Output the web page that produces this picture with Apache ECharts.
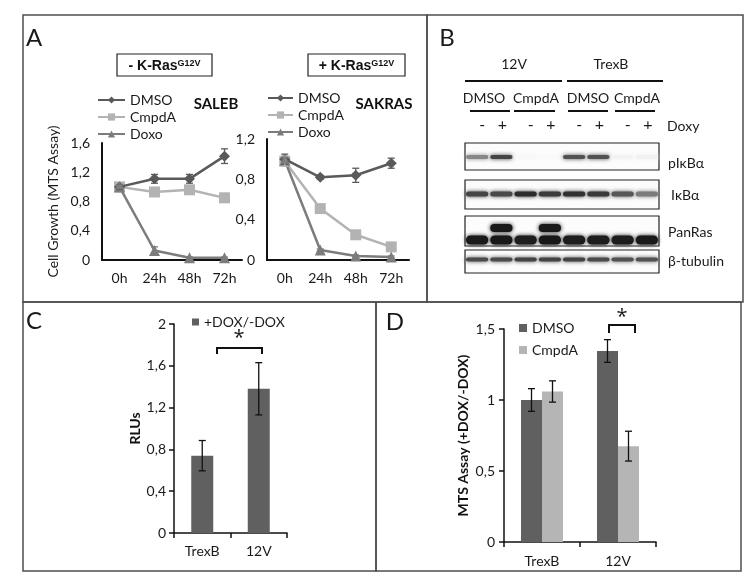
<!DOCTYPE html>
<html><head><meta charset="utf-8">
<script src="https://cdn.jsdelivr.net/npm/echarts@6/dist/echarts.min.js"></script>
<style>html,body{margin:0;padding:0;background:#fff}#c{width:750px;height:586px}</style>
</head><body><div id="c"></div>
<script>
// ---------- Panel A data ----------
const timePoints = ['0h', '24h', '48h', '72h'];
const salebDMSO = [1.0, 1.11, 1.11, 1.42];
const salebDMSOErr = [0.03, 0.06, 0.06, 0.10];
const salebCmpdA = [1.0, 0.93, 0.96, 0.85];
const salebCmpdAErr = [0.02, 0.06, 0.05, 0.06];
const salebDoxo = [1.0, 0.13, 0.03, 0.03];
const salebDoxoErr = [0.02, 0.05, 0.01, 0.01];
const sakrasDMSO = [1.0, 0.82, 0.84, 0.96];
const sakrasDMSOErr = [0.05, 0.02, 0.07, 0.05];
const sakrasCmpdA = [0.98, 0.51, 0.25, 0.13];
const sakrasCmpdAErr = [0.05, 0.02, 0.02, 0.02];
const sakrasDoxo = [0.99, 0.10, 0.04, 0.03];
const sakrasDoxoErr = [0.03, 0.01, 0.01, 0.01];

// ---------- Panel B (western blot band intensities, 0..1) ----------
const blotLanes = ['12V DMSO -', '12V DMSO +', '12V CmpdA -', '12V CmpdA +', 'TrexB DMSO -', 'TrexB DMSO +', 'TrexB CmpdA -', 'TrexB CmpdA +'];
const blotRows = ['pIκBα', 'IκBα', 'PanRas', 'β-tubulin'];
const pIkBa = [0.50, 0.78, 0.03, 0.02, 0.72, 0.72, 0.05, 0.06];
const IkBa = [0.78, 0.76, 0.88, 0.82, 0.86, 0.82, 0.70, 0.55];
const panRasLower = [0.96, 0.96, 0.94, 0.96, 0.94, 0.94, 0.94, 0.96];
const panRasUpper = [0, 0.96, 0, 0.96, 0, 0, 0, 0];
const bTubulin = [0.75, 0.75, 0.78, 0.78, 0.78, 0.75, 0.72, 0.72];
const doxySigns = ['-', '+', '-', '+', '-', '+', '-', '+'];

// ---------- Panel C ----------
const cellLines = ['TrexB', '12V'];
const rlu = [0.74, 1.38];
const rluErr = [0.145, 0.25];

// ---------- Panel D ----------
const mtsDMSO = [1.0, 1.345];
const mtsDMSOErr = [0.08, 0.08];
const mtsCmpdA = [1.06, 0.675];
const mtsCmpdAErr = [0.075, 0.105];

const FONT = "Lato, 'Open Sans', sans-serif";
const ARIAL = "'Liberation Sans', Arial, sans-serif";
const TXT = '#1a1a1a';
const C_DMSO = '#5a5a5a', C_CMPD = '#b3b3b3', C_DOXO = '#7c7c7c';
const BAR_DARK = '#606060', BAR_LIGHT = '#b5b5b5';
const D_BAR_W = 21;
const FS = 14;

const comma = v => String(Math.round(v * 10) / 10).replace('.', ',');

function errSeries(name, xi, yi, vals, errs, color, offsetPx, z) {
  return {
    type: 'custom', name: name, xAxisIndex: xi, yAxisIndex: yi, z: z || 5,
    silent: true,
    data: vals.map((v, i) => [i, v, errs[i]]),
    renderItem: function (params, api) {
      const i = api.value(0), v = api.value(1), e = api.value(2);
      const t = api.coord([i, v + e]);
      const b = api.coord([i, v - e]);
      const x = t[0] + (offsetPx || 0);
      const cap = 3.5;
      const st = { stroke: color, lineWidth: 1.3 };
      return { type: 'group', children: [
        { type: 'line', shape: { x1: x, y1: t[1], x2: x, y2: b[1] }, style: st },
        { type: 'line', shape: { x1: x - cap, y1: t[1], x2: x + cap, y2: t[1] }, style: st },
        { type: 'line', shape: { x1: x - cap, y1: b[1], x2: x + cap, y2: b[1] }, style: st }
      ]};
    }
  };
}

// blot layout constants (offsets from row centre, heights)
const boxLayout = [{ dy: -1.25, h: 27 }, { dy: 3.25, h: 29 }, { dy: 6.25, h: 30 }, { dy: 3.25, h: 23 }];
function gray(k) { const g = Math.round(255 - 240 * k); return 'rgb(' + g + ',' + g + ',' + g + ')'; }
function bandSeries(row, vals, dy, h) {
  return {
    type: 'custom', xAxisIndex: 2, yAxisIndex: 2, silent: true, z: 4,
    data: vals.map((k, i) => [i, row, k]),
    renderItem: function (params, api) {
      const k = api.value(2);
      if (k <= 0) return null;
      const c = api.coord([api.value(0), api.value(1)]);
      const lw = api.size([1, 0])[0];
      const col = gray(k);
      return { type: 'rect',
        shape: { x: c[0] - lw * 0.46, y: c[1] + dy - h / 2, width: lw * 0.92, height: h, r: h / 2 },
        style: { fill: col, shadowBlur: 4, shadowColor: col } };
    }
  };
}
const boxSeries = {
  type: 'custom', xAxisIndex: 2, yAxisIndex: 2, silent: true, z: 3,
  data: blotRows.map((r, i) => [0, i]),
  renderItem: function (params, api) {
    const r = api.value(1);
    const c0 = api.coord([0, r]);
    const c7 = api.coord([blotLanes.length - 1, r]);
    const lw = api.size([1, 0])[0];
    const L = boxLayout[r];
    return { type: 'rect',
      shape: { x: c0[0] - lw / 2, y: c0[1] + L.dy - L.h / 2, width: c7[0] - c0[0] + lw, height: L.h },
      style: { fill: '#fcfcfc', stroke: '#222', lineWidth: 1.2 } };
  }
};

const axisLineA = { show: true, lineStyle: { color: '#111', width: 2 } };
const axisLineCD = { show: true, lineStyle: { color: '#111', width: 1.5 } };
const lblA = { color: TXT, fontFamily: FONT, fontSize: FS };

function txt(x, y, text, opt) {
  opt = opt || {};
  return { type: 'text', x: x, y: y, rotation: opt.rot || 0, z: 20, silent: true,
    style: { text: text, fill: opt.color || TXT, font: (opt.weight || 'normal') + ' ' + (opt.size || FS) + 'px ' + (opt.family || FONT),
      align: opt.align || 'center', verticalAlign: 'middle', rich: opt.rich } };
}
function ln(x1, y1, x2, y2, w, c) {
  return { type: 'line', z: 20, silent: true, shape: { x1: x1, y1: y1, x2: x2, y2: y2 }, style: { stroke: c || '#111', lineWidth: w || 2 } };
}
const richSup = { sup: { fontSize: 9, fontWeight: 'bold', fontFamily: ARIAL, verticalAlign: 'top', fill: '#111' } };

const frame = '#4d4d4d';
const graphics = [
  { type: 'rect', silent: true, shape: { x: 23, y: 15, width: 404, height: 287 }, style: { fill: 'none', stroke: frame, lineWidth: 1.5 } },
  { type: 'rect', silent: true, shape: { x: 427, y: 15, width: 316, height: 287 }, style: { fill: 'none', stroke: frame, lineWidth: 1.5 } },
  { type: 'rect', silent: true, shape: { x: 23, y: 302, width: 353, height: 269 }, style: { fill: 'none', stroke: frame, lineWidth: 1.5 } },
  { type: 'rect', silent: true, shape: { x: 376, y: 302, width: 365, height: 269 }, style: { fill: 'none', stroke: frame, lineWidth: 1.5 } },
  txt(34, 38, 'A', { size: 24 }),
  txt(447, 38, 'B', { size: 24 }),
  txt(34, 321, 'C', { size: 24 }),
  txt(395, 322, 'D', { size: 24 }),
  { type: 'rect', silent: true, shape: { x: 117, y: 54, width: 95, height: 22 }, style: { fill: '#fff', stroke: '#222', lineWidth: 1.2 } },
  { type: 'rect', silent: true, shape: { x: 308, y: 54, width: 97, height: 22 }, style: { fill: '#fff', stroke: '#222', lineWidth: 1.2 } },
  txt(164.5, 66, '- K-Ras{sup|G12V}', { weight: 'bold', size: 14, family: ARIAL, color: '#111', rich: richSup }),
  txt(356.5, 66, '+ K-Ras{sup|G12V}', { weight: 'bold', size: 14, family: ARIAL, color: '#111', rich: richSup }),
  txt(216, 104, 'SALEB', { weight: 'bold', size: 15, color: '#111' }),
  txt(384, 104, 'SAKRAS', { weight: 'bold', size: 15, color: '#111' }),
  // blot header
  txt(514, 64, '12V'),
  txt(611, 64, 'TrexB'),
  ln(465, 81, 562, 81, 2), ln(567, 81, 663, 81, 2),
  txt(484, 98, 'DMSO'), txt(536, 98, 'CmpdA'),
  txt(588, 98, 'DMSO'), txt(637, 98, 'CmpdA'),
  ln(470, 111, 510, 111, 2), ln(514, 111, 555, 111, 2), ln(568, 111, 608, 111, 2), ln(615, 111, 655, 111, 2),
  txt(667, 126, 'Doxy', { align: 'left' }),
  txt(668, 163, 'pIκBα', { align: 'left' }),
  txt(671, 195, 'IκBα', { align: 'left' }),
  txt(668, 232, 'PanRas', { align: 'left' }),
  txt(668, 261, 'β-tubulin', { align: 'left' }),
  // panel C / D significance brackets
  ln(217, 348, 262, 348, 2), ln(217, 347, 217, 354, 2), ln(262, 347, 262, 354, 2),
  txt(239, 338, '*', { size: 20, family: "'Open Sans', sans-serif" }),
  ln(609, 325, 635, 325, 2), ln(609, 324, 609, 333, 2), ln(635, 324, 635, 333, 2),
  txt(622, 317, '*', { size: 20, family: "'Open Sans', sans-serif" })
];

const tickCD = { show: true, length: 5, lineStyle: { color: '#111', width: 1.5 } };
const option = {
  backgroundColor: '#fff',
  animation: false,
  textStyle: { fontFamily: FONT },
  grid: [
    { left: 102, top: 143, width: 140, height: 117 },
    { left: 267, top: 139, width: 142, height: 121 },
    { left: 465, top: 141, width: 194, height: 134 },
    { left: 174, top: 324, width: 113, height: 209 },
    { left: 504, top: 329, width: 152, height: 213 }
  ],
  xAxis: [
    { type: 'category', gridIndex: 0, data: timePoints, axisLine: axisLineA, axisTick: { show: false }, axisLabel: Object.assign({ margin: 11 }, lblA) },
    { type: 'category', gridIndex: 1, data: timePoints, axisLine: axisLineA, axisTick: { show: false }, axisLabel: Object.assign({ margin: 11 }, lblA) },
    { type: 'category', gridIndex: 2, data: blotLanes, show: false },
    { type: 'category', gridIndex: 3, data: cellLines, axisLine: axisLineCD, axisTick: tickCD, axisLabel: Object.assign({ margin: 11 }, lblA) },
    { type: 'category', gridIndex: 4, data: cellLines, axisLine: axisLineCD, axisTick: tickCD, axisLabel: Object.assign({ margin: 12 }, lblA) }
  ],
  yAxis: [
    { type: 'value', gridIndex: 0, min: 0, max: 1.6, interval: 0.4, axisLine: axisLineA, axisTick: { show: false }, splitLine: { show: false },
      axisLabel: Object.assign({ margin: 12, formatter: comma }, lblA),
      name: 'Cell Growth (MTS Assay)', nameLocation: 'middle', nameGap: 42, nameTextStyle: { color: TXT, fontFamily: FONT, fontSize: FS } },
    { type: 'value', gridIndex: 1, min: 0, max: 1.2, interval: 0.4, axisLine: axisLineA, axisTick: { show: false }, splitLine: { show: false },
      axisLabel: Object.assign({ margin: 12, formatter: comma }, lblA) },
    { type: 'category', gridIndex: 2, data: blotRows, inverse: true, show: false },
    { type: 'value', gridIndex: 3, min: 0, max: 2, interval: 0.4, axisLine: axisLineCD, axisTick: tickCD, splitLine: { show: false },
      axisLabel: Object.assign({ margin: 8, formatter: comma }, lblA),
      name: 'RLUs', nameLocation: 'middle', nameGap: 32, nameTextStyle: { color: '#111', fontFamily: FONT, fontSize: FS, fontWeight: 'bold' } },
    { type: 'value', gridIndex: 4, min: 0, max: 1.5, interval: 0.5, axisLine: axisLineCD, axisTick: tickCD, splitLine: { show: false },
      axisLabel: Object.assign({ margin: 9, formatter: comma }, lblA),
      name: 'MTS Assay (+DOX/-DOX)', nameLocation: 'middle', nameGap: 34, nameTextStyle: { color: '#111', fontFamily: FONT, fontSize: FS, fontWeight: 'bold' } }
  ],
  legend: [
    { data: ['DMSO', 'CmpdA', 'Doxo'], orient: 'vertical', left: 97, top: 93, itemWidth: 27, itemHeight: 9, itemGap: 3, padding: 0,
      textStyle: { color: TXT, fontFamily: FONT, fontSize: FS }, selectedMode: false },
    { data: ['DMSO', 'CmpdA', 'Doxo'], orient: 'vertical', left: 267, top: 91, itemWidth: 25, itemHeight: 9, itemGap: 3, padding: 0,
      textStyle: { color: TXT, fontFamily: FONT, fontSize: FS }, selectedMode: false },
    { data: ['+DOX/-DOX'], left: 192, top: 315, icon: 'rect', itemWidth: 7, itemHeight: 7, padding: 0,
      textStyle: { color: TXT, fontFamily: FONT, fontSize: FS }, selectedMode: false },
    { data: ['DMSO (D)', 'CmpdA (D)'], orient: 'vertical', left: 519, top: 321, icon: 'rect', itemWidth: 8, itemHeight: 8, itemGap: 8, padding: 0,
      formatter: n => n.replace(' (D)', ''), textStyle: { color: TXT, fontFamily: FONT, fontSize: FS }, selectedMode: false }
  ],
  graphic: graphics,
  series: [
    // A left (SALEB)
    { type: 'line', name: 'CmpdA', xAxisIndex: 0, yAxisIndex: 0, data: salebCmpdA, symbol: 'rect', symbolSize: 11, lineStyle: { color: C_CMPD, width: 2.5 }, itemStyle: { color: C_CMPD }, z: 3 },
    { type: 'line', name: 'DMSO', xAxisIndex: 0, yAxisIndex: 0, data: salebDMSO, symbol: 'diamond', symbolSize: 11, lineStyle: { color: C_DMSO, width: 2.5 }, itemStyle: { color: C_DMSO }, z: 4 },
    { type: 'line', name: 'Doxo', xAxisIndex: 0, yAxisIndex: 0, data: salebDoxo, symbol: 'triangle', symbolSize: 11, lineStyle: { color: C_DOXO, width: 2.5 }, itemStyle: { color: C_DOXO }, z: 5 },
    errSeries('e1', 0, 0, salebDMSO, salebDMSOErr, C_DMSO, 0, 6),
    errSeries('e2', 0, 0, salebCmpdA, salebCmpdAErr, C_CMPD, 0, 6),
    errSeries('e3', 0, 0, salebDoxo, salebDoxoErr, C_DOXO, 0, 6),
    // A right (SAKRAS)
    { type: 'line', name: 'CmpdA', xAxisIndex: 1, yAxisIndex: 1, data: sakrasCmpdA, symbol: 'rect', symbolSize: 11, lineStyle: { color: C_CMPD, width: 2.5 }, itemStyle: { color: C_CMPD }, z: 3 },
    { type: 'line', name: 'DMSO', xAxisIndex: 1, yAxisIndex: 1, data: sakrasDMSO, symbol: 'diamond', symbolSize: 11, lineStyle: { color: C_DMSO, width: 2.5 }, itemStyle: { color: C_DMSO }, z: 4 },
    { type: 'line', name: 'Doxo', xAxisIndex: 1, yAxisIndex: 1, data: sakrasDoxo, symbol: 'triangle', symbolSize: 11, lineStyle: { color: C_DOXO, width: 2.5 }, itemStyle: { color: C_DOXO }, z: 5 },
    errSeries('e4', 1, 1, sakrasDMSO, sakrasDMSOErr, C_DMSO, 0, 6),
    errSeries('e5', 1, 1, sakrasCmpdA, sakrasCmpdAErr, C_CMPD, 0, 6),
    errSeries('e6', 1, 1, sakrasDoxo, sakrasDoxoErr, C_DOXO, 0, 6),
    // B blot
    boxSeries,
    bandSeries(0, pIkBa, -0.75, 4),
    bandSeries(1, IkBa, 2.75, 5),
    bandSeries(2, panRasLower, 15.25, 9),
    bandSeries(2, panRasUpper, 3.25, 8),
    bandSeries(3, bTubulin, 1.25, 4),
    {
      type: 'custom', xAxisIndex: 2, yAxisIndex: 2, silent: true, z: 10,
      data: doxySigns.map((s, i) => [i, 0]),
      renderItem: function (params, api) {
        const c = api.coord([api.value(0), 0]);
        const s = doxySigns[params.dataIndex];
        return { type: 'text', x: c[0] + (s === '-' ? 5 : 1), y: c[1] - 33,
          style: { text: s, fill: TXT, font: '16px ' + FONT, align: 'center', verticalAlign: 'middle' } };
      }
    },
    // C
    { type: 'bar', name: '+DOX/-DOX', xAxisIndex: 3, yAxisIndex: 3, data: rlu, barWidth: 22, itemStyle: { color: BAR_DARK } },
    errSeries('e7', 3, 3, rlu, rluErr, '#111', 0, 6),
    // D
    { type: 'bar', name: 'DMSO (D)', xAxisIndex: 4, yAxisIndex: 4, data: mtsDMSO, barWidth: D_BAR_W, barGap: '0%', itemStyle: { color: BAR_DARK } },
    { type: 'bar', name: 'CmpdA (D)', xAxisIndex: 4, yAxisIndex: 4, data: mtsCmpdA, barWidth: D_BAR_W, barGap: '0%', itemStyle: { color: BAR_LIGHT } },
    errSeries('e8', 4, 4, mtsDMSO, mtsDMSOErr, '#111', -D_BAR_W / 2, 6),
    errSeries('e9', 4, 4, mtsCmpdA, mtsCmpdAErr, '#111', D_BAR_W / 2, 6)
  ]
};
const chart = echarts.init(document.getElementById('c'), null, { renderer: 'canvas' });
chart.setOption(option);
</script></body></html>
